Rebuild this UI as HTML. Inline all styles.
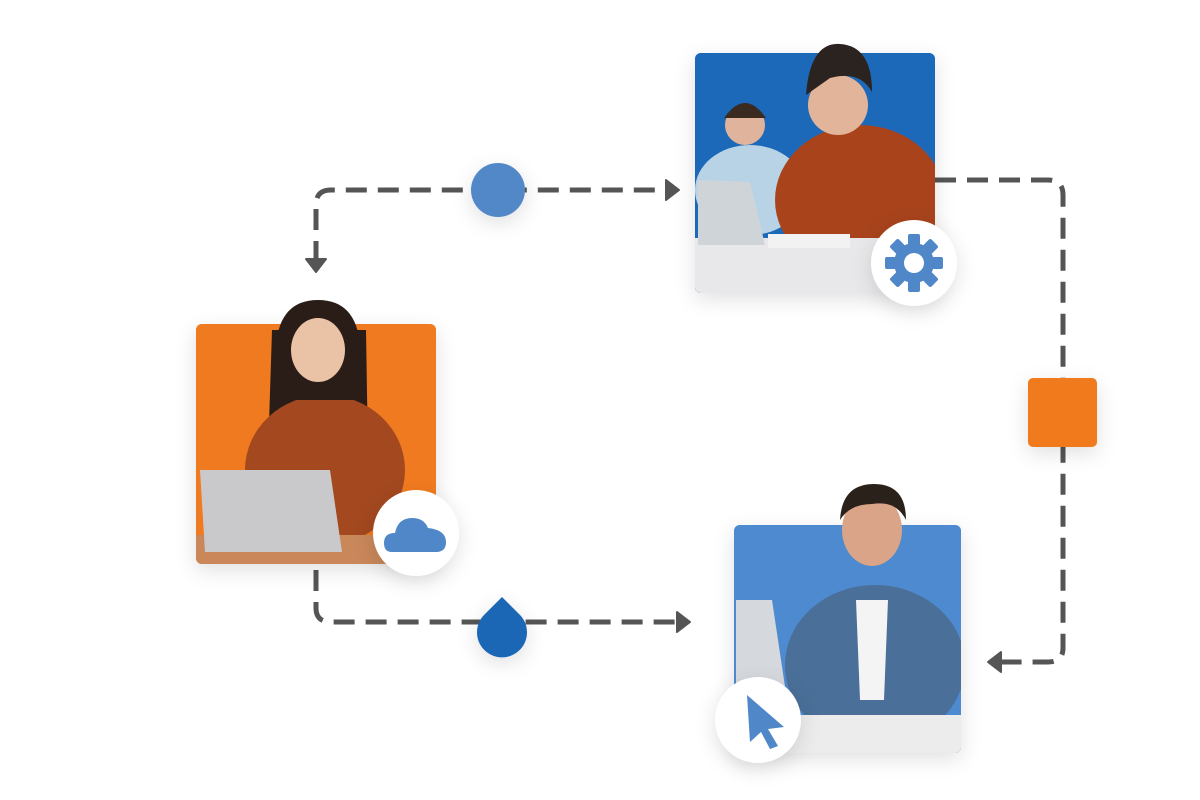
<!DOCTYPE html>
<html><head><meta charset="utf-8"><style>
html,body{margin:0;padding:0;background:#fff;width:1200px;height:800px;overflow:hidden}
</style></head><body>
<svg width="1200" height="800" viewBox="0 0 1200 800" xmlns="http://www.w3.org/2000/svg">
<defs>
<filter id="sh" x="-30%" y="-30%" width="160%" height="160%"><feDropShadow dx="0" dy="6" stdDeviation="10" flood-color="#000" flood-opacity="0.12"/></filter>
<clipPath id="c1"><rect x="695" y="53" width="240" height="240" rx="6"/></clipPath>
<clipPath id="c2"><rect x="196" y="324" width="240" height="240" rx="6"/></clipPath>
<clipPath id="c3"><rect x="734" y="525" width="227" height="228" rx="6"/></clipPath>
</defs>
<g fill="none" stroke="#555" stroke-width="5" stroke-dasharray="21 11">
<path d="M316,262 V205 Q316,190 331,190 H670"/>
<path d="M935,180 H1048 Q1063,180 1063,195 V648 Q1063,662 1048,662 H998"/>
<path d="M316,570 V608 Q316,622 331,622 H680"/>
</g>
<g fill="#555" stroke="#555" stroke-width="2" stroke-linejoin="round">
<path d="M306,259 L326,259 L316,272 Z"/>
<path d="M666,180 L679,190 L666,200 Z"/>
<path d="M677,612 L690,622 L677,632 Z"/>
<path d="M1001,652 L988,662 L1001,672 Z"/>
</g>
<!-- top photo -->
<g filter="url(#sh)"><rect x="695" y="53" width="240" height="240" rx="6" fill="#1c69ba"/></g>
<g clip-path="url(#c1)">
<rect x="695" y="53" width="240" height="240" fill="#1c69ba"/>
<ellipse cx="750" cy="190" rx="55" ry="45" fill="#b9d3e6"/>
<circle cx="745" cy="125" r="20" fill="#e0b49c"/>
<path d="M724,118 Q745,88 766,118 Z" fill="#3a2a20"/>
<ellipse cx="860" cy="200" rx="85" ry="75" fill="#a8431c"/>
<rect x="695" y="238" width="240" height="55" fill="#e8e8ea"/>
<path d="M698,180 L750,182 L765,245 L698,245 Z" fill="#cfd4d9"/>
<rect x="768" y="234" width="82" height="14" fill="#f2f2f2"/>
</g>
<circle cx="838" cy="105" r="30" fill="#e2b49a"/>
<path d="M806,95 Q810,42 840,44 Q872,46 872,92 Q860,70 830,78 Z" fill="#2b2320"/>
<!-- left photo -->
<g filter="url(#sh)"><rect x="196" y="324" width="240" height="240" rx="6" fill="#f07a1f"/></g>
<g clip-path="url(#c2)">
<rect x="196" y="324" width="240" height="240" fill="#f07a1f"/>
<path d="M272,330 L366,330 L368,455 L268,455 Z" fill="#2a1d18"/>
<ellipse cx="325" cy="470" rx="80" ry="75" fill="#a3481f"/>
<rect x="196" y="535" width="240" height="29" fill="#c9875a"/>
<path d="M200,470 L330,470 L342,552 L205,552 Z" fill="#c9c9cb"/>
</g>
<path d="M276,345 Q280,300 318,300 Q356,300 360,345 L362,400 L274,400 Z" fill="#2a1d18"/>
<ellipse cx="318" cy="350" rx="27" ry="32" fill="#eac2a6"/>
<!-- bottom right photo -->
<g filter="url(#sh)"><rect x="734" y="525" width="227" height="228" rx="6" fill="#4e8ad0"/></g>
<g clip-path="url(#c3)">
<rect x="734" y="525" width="227" height="228" fill="#4e8ad0"/>
<ellipse cx="875" cy="665" rx="90" ry="80" fill="#4a6f98"/>
<path d="M856,600 L888,600 L884,700 L860,700 Z" fill="#f4f4f4"/>
<rect x="734" y="715" width="227" height="38" fill="#ececec"/>
<path d="M736,600 L772,600 L790,720 L736,720 Z" fill="#d5d8dc"/>
</g>
<ellipse cx="872" cy="530" rx="30" ry="36" fill="#d9a488"/>
<path d="M840,520 Q842,484 874,484 Q906,484 906,520 Q896,500 872,504 Q850,504 840,520 Z" fill="#2b211b"/>
<!-- icon circles -->
<g filter="url(#sh)">
<circle cx="914" cy="263" r="43" fill="#fff"/>
<circle cx="416" cy="533" r="43" fill="#fff"/>
<circle cx="758" cy="720" r="43" fill="#fff"/>
</g>
<!-- gear -->
<g transform="translate(914,263)" fill="#4f87c9">
<g id="t"><rect x="-6" y="-29" width="12" height="14" rx="2"/></g>
<use href="#t" transform="rotate(45)"/><use href="#t" transform="rotate(90)"/><use href="#t" transform="rotate(135)"/>
<use href="#t" transform="rotate(180)"/><use href="#t" transform="rotate(225)"/><use href="#t" transform="rotate(270)"/><use href="#t" transform="rotate(315)"/>
<circle r="20"/><circle r="10" fill="#fff"/>
</g>
<!-- cloud -->
<path d="M392,552 Q384,552 384,543 Q384,533 395,533 Q398,518 412,518 Q424,518 428,528 Q446,530 446,542 Q446,552 436,552 Z" fill="#4f87c9"/>
<!-- cursor -->
<path d="M747,695 L784,727 L768,729 L778,746 L770,749 L761,732 L750,742 Z" fill="#4f87c9"/>
<!-- markers -->
<g filter="url(#sh)">
<circle cx="498" cy="190" r="27" fill="#5288c8"/>
<rect x="1028" y="378" width="69" height="69" rx="5" fill="#f07a1f"/>
<path d="M502,597 L519,614 A25,25 0 1 1 485,614 Z" fill="#1d66b6"/>
</g>
</svg>
</body></html>
